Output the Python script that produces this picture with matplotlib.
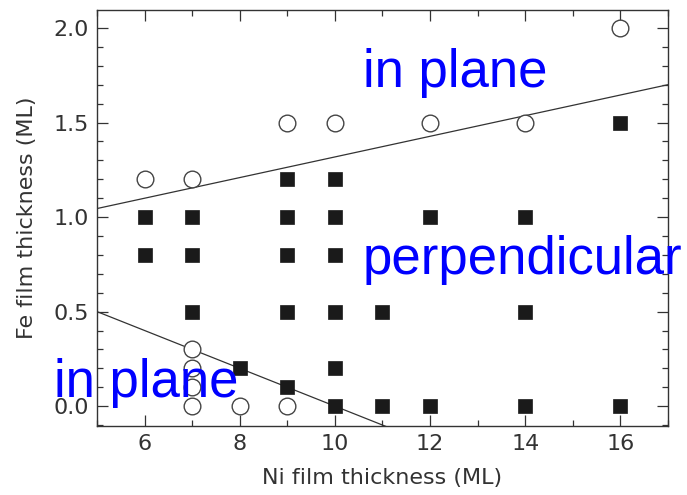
import numpy as np
import matplotlib
matplotlib.use("Agg")
import matplotlib.pyplot as plt
from matplotlib.ticker import MultipleLocator, FormatStrFormatter

# open circles: in-plane magnetisation
inplane_ni = [6, 7, 9, 10, 12, 14, 16, 7, 7, 7, 7, 8, 9]
inplane_fe = [1.2, 1.2, 1.5, 1.5, 1.5, 1.5, 2.0, 0.3, 0.2, 0.1, 0.0, 0.0, 0.0]

# filled squares: perpendicular magnetisation
perp_ni = [6, 6, 7, 7, 7, 8, 9, 9, 9, 9, 9, 10, 10, 10, 10, 10, 10,
           11, 11, 12, 12, 14, 14, 14, 16, 16]
perp_fe = [1.0, 0.8, 1.0, 0.8, 0.5, 0.2, 1.2, 1.0, 0.8, 0.5, 0.1, 1.2, 1.0, 0.8, 0.5, 0.2, 0.0,
           0.5, 0.0, 1.0, 0.0, 1.0, 0.5, 0.0, 1.5, 0.0]

# boundary lines (end points)
upper_x = [5, 17]
upper_y = [1.045, 1.70]
lower_x = [5, 11.5]
lower_y = [0.5, -0.15]

plt.rcParams['font.family'] = ['DejaVu Sans']

fig = plt.figure(figsize=(6.87, 4.95), dpi=100)
ax = fig.add_axes([0.1412, 0.1394, 0.8311, 0.8404])

ax.plot(upper_x, upper_y, color='#333333', lw=0.9)
ax.plot(lower_x, lower_y, color='#333333', lw=0.9)

ax.plot(perp_ni, perp_fe, 's', ms=10.5, color='#1a1a1a', mec='#1a1a1a', mew=0.5, ls='none')
ax.plot(inplane_ni, inplane_fe, 'o', ms=12, mfc='white', mec='#444444', mew=1.0, ls='none')

ax.set_xlim(5, 17)
ax.set_ylim(-0.105, 2.095)
ax.xaxis.set_major_locator(MultipleLocator(2))
ax.xaxis.set_minor_locator(MultipleLocator(1))
ax.yaxis.set_major_locator(MultipleLocator(0.5))
ax.yaxis.set_minor_locator(MultipleLocator(0.1))
ax.set_xticks([6, 8, 10, 12, 14, 16])
ax.yaxis.set_major_formatter(FormatStrFormatter('%.1f'))

ax.tick_params(which='both', direction='in', top=True, right=True, color='#333333',
               labelcolor='#333333', labelsize=16, width=0.9)
ax.tick_params(which='major', length=8, pad=6)
ax.tick_params(which='minor', length=4)
for s in ax.spines.values():
    s.set_color('#333333')
    s.set_linewidth(1.0)

ax.set_xlabel('Ni film thickness (ML)', fontsize=16, color='#333333', labelpad=10)
ax.set_ylabel('Fe film thickness (ML)', fontsize=16, color='#333333', labelpad=12)

blue_font = ['Liberation Sans', 'DejaVu Sans']
ax.text(10.59, 1.69, 'in plane', fontsize=38, color='#0000ff', va='baseline', ha='left', family=blue_font)
ax.text(10.59, 0.70, 'perpendicular', fontsize=38, color='#0000ff', va='baseline', ha='left', family=blue_font)
ax.text(4.1, 0.05, 'in plane', fontsize=38, color='#0000ff', va='baseline', ha='left', family=blue_font)

fig.savefig('out.png', dpi=100)
